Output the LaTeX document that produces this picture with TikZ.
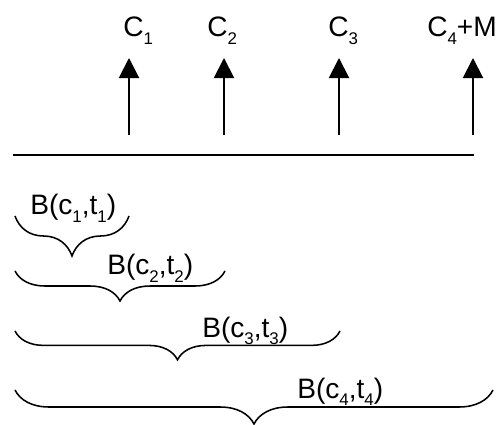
\documentclass[tikz,border=0pt]{standalone}
\usepackage{fontspec}
\setmainfont{Liberation Sans}
\usetikzlibrary{arrows.meta,decorations.pathreplacing}

\newcommand{\idx}[1]{\raisebox{-5pt}{\fontsize{12}{12}\selectfont #1}}

\begin{document}
\begin{tikzpicture}[
    x=0.025cm, y=-0.025cm,
    lbl/.style={inner sep=0pt,anchor=base west,font=\fontsize{20}{22}\selectfont},
    arrow/.style={-{Triangle[width=0.5cm,length=0.5cm]},line width=1.4pt},
    axis/.style={line width=1.4pt},
    brc/.style={decorate,decoration={brace,mirror,amplitude=#1},line width=1.1pt}
  ]
    \useasboundingbox (0,0) rectangle (499,425);

    % cash flows
    \node[lbl] (c1) at (123,37) {C\idx{1}};
    \node[lbl] (c2) at (207,37) {C\idx{2}};
    \node[lbl] (c3) at (328,37) {C\idx{3}};
    \node[lbl] (c4) at (427,37) {C\idx{4}+M};

    \coordinate (a1) at (129,135); \coordinate (t1) at (129,58);
    \coordinate (a2) at (224,135); \coordinate (t2) at (224,58);
    \coordinate (a3) at (339,135); \coordinate (t3) at (339,58);
    \coordinate (a4) at (473,135); \coordinate (t4) at (473,58);

    \draw[arrow] (a1) -- (t1);
    \draw[arrow] (a2) -- (t2);
    \draw[arrow] (a3) -- (t3);
    \draw[arrow] (a4) -- (t4);

    % time line
    \coordinate (l0) at (13,155);
    \coordinate (l1) at (474,155);
    \draw[axis] (l0) -- (l1);

    % zero-coupon pieces
    \node[lbl] (b1) at (30,215) {B(c\idx{1},t\idx{1})};
    \node[lbl] (b2) at (107,275) {B(c\idx{2},t\idx{2})};
    \node[lbl] (b3) at (202,337) {B(c\idx{3},t\idx{3})};
    \node[lbl] (b4) at (297,398) {B(c\idx{4},t\idx{4})};

    \coordinate (s1) at (15,216); \coordinate (e1) at (129,216);
    \coordinate (s2) at (15,271); \coordinate (e2) at (225,271);
    \coordinate (s3) at (15,331); \coordinate (e3) at (340,331);
    \coordinate (s4) at (15,390); \coordinate (e4) at (493,390);

    \draw[brc=1.0cm] (s1) -- (e1);
    \draw[brc=0.75cm] (s2) -- (e2);
    \draw[brc=0.72cm] (s3) -- (e3);
    \draw[brc=0.85cm] (s4) -- (e4);
  \end{tikzpicture}
\end{document}
